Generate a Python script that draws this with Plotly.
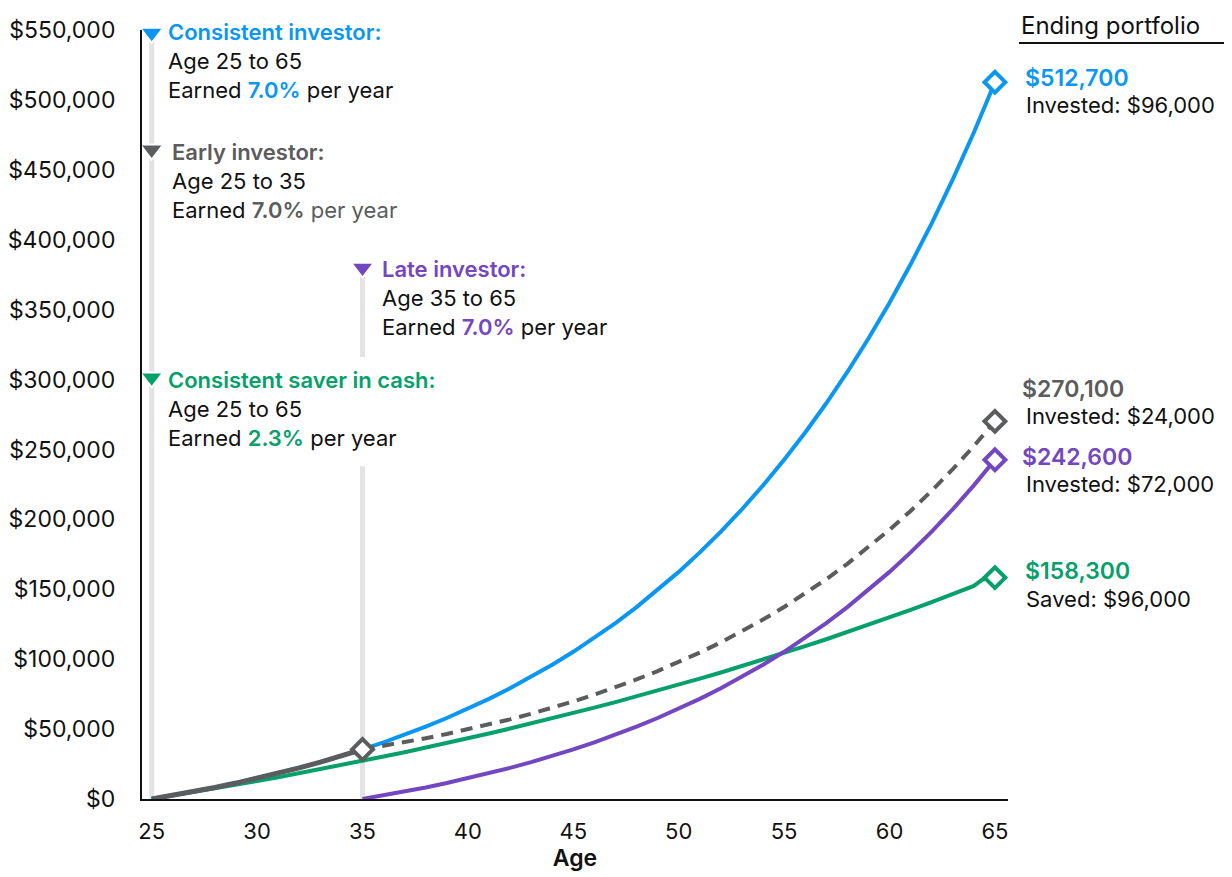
import plotly.graph_objects as go

# ---------------- data ----------------
ages = list(range(25, 66))

consistent_investor = [0, 2568, 5316, 8256, 11402, 14768, 18370, 22223, 26347, 30759,
                       35481, 40532, 45938, 51721, 57910, 64531, 71617, 79198, 87310, 95989,
                       105276, 115214, 125847, 137224, 149398, 162424, 176361, 191274, 207232, 224306,
                       242575, 262124, 283040, 305421, 329368, 354992, 382410, 411746, 443137, 476724,
                       512663]

early_ages = list(range(25, 36))
early_investor_saving = [0, 2568, 5316, 8256, 11402, 14768, 18370, 22223, 26347, 30759, 35481]
early_growth_ages = list(range(35, 66))
early_investor_growth = [35481, 37964, 40622, 43465, 46508, 49763, 53247, 56974, 60962, 65230,
                         69796, 74681, 79909, 85503, 91488, 97892, 104744, 112076, 119922, 128316,
                         137298, 146909, 157193, 168196, 179970, 192568, 206048, 220471, 235904, 252417,
                         270087]

late_ages = list(range(35, 66))
late_investor = [0, 2568, 5316, 8256, 11402, 14768, 18370, 22223, 26347, 30759,
                 35481, 40532, 45938, 51721, 57910, 64531, 71617, 79198, 87310, 95989,
                 105276, 115214, 125847, 137224, 149398, 162424, 176361, 191274, 207232, 224306,
                 242575]

cash_ages = ages[:-1] + [64.4, 65]
cash_saver = [0, 2455, 4967, 7536, 10165, 12854, 15605, 18419, 21298, 24243,
              27255, 30337, 33490, 36716, 40016, 43391, 46844, 50377, 53991, 57688,
              61470, 65339, 69297, 73346, 77488, 81726, 86060, 90495, 95032, 99673,
              104420, 109277, 114246, 119329, 124528, 129848, 135289, 140856, 146551, 152377,
              156900, 158337]

end_labels = ["$512,700", "$270,100", "$242,600", "$158,300"]
end_notes = ["Invested: $96,000", "Invested: $24,000", "Invested: $72,000", "Saved: $96,000"]

y_ticks = list(range(0, 550001, 50000))
y_tick_text = ["$0"] + [f"${v:,}" for v in y_ticks[1:]]
x_ticks = [25, 30, 35, 40, 45, 50, 55, 60, 65]

# marker heights of the label triangles
tri_blue, tri_gray, tri_purple, tri_green = 548000, 464500, 380000, 301500

# ---------------- style ----------------
BLUE = "#0a97f4"
GRAY = "#5b5c5e"
PURPLE = "#7346c2"
GREEN = "#06a06b"
LIGHT = "#e3e3e5"
INK = "#111111"
FONT = "Inter"

OFF = 8  # page body margin
W, H = 1224, 869
L, R, T, B = 134, 224, 22, 78
PW, PH = W - L - R, H - T - B


def px(x):
    return (x - OFF - L) / PW


def py(y):
    return (H - B - (y - OFF)) / PH


fig = go.Figure()

# light vertical guide lines
guides = [(25, tri_blue, 0), (35, tri_purple, 316000), (35, 238000, 0)]
for gx, y1, y2 in guides:
    fig.add_shape(type="line", x0=gx, x1=gx, y0=y1, y1=y2, xref="x", yref="y",
                  line=dict(color=LIGHT, width=5), layer="below")

# lines
fig.add_trace(go.Scatter(x=cash_ages, y=cash_saver, mode="lines",
                         line=dict(color=GREEN, width=4), hoverinfo="skip"))
fig.add_trace(go.Scatter(x=ages, y=consistent_investor, mode="lines",
                         line=dict(color=BLUE, width=4), hoverinfo="skip"))
fig.add_trace(go.Scatter(x=late_ages, y=late_investor, mode="lines",
                         line=dict(color=PURPLE, width=4), hoverinfo="skip"))
fig.add_trace(go.Scatter(x=early_growth_ages, y=early_investor_growth, mode="lines",
                         line=dict(color=GRAY, width=4, dash="12px,8px"), hoverinfo="skip"))
fig.add_trace(go.Scatter(x=early_ages, y=early_investor_saving, mode="lines",
                         line=dict(color=GRAY, width=5), hoverinfo="skip"))

# end diamonds
ends = [(65, consistent_investor[-1], BLUE), (65, early_investor_growth[-1], GRAY),
        (65, late_investor[-1], PURPLE), (65, cash_saver[-1], GREEN),
        (35, early_investor_saving[-1], GRAY)]
for ex, ey, c in ends:
    fig.add_trace(go.Scatter(x=[ex], y=[ey], mode="markers",
                             marker=dict(symbol="diamond", size=16, color="white",
                                         line=dict(color=c, width=4)),
                             hoverinfo="skip", cliponaxis=False))

# triangles
for tx, ty, c in [(25, tri_blue, BLUE), (25, tri_gray, GRAY), (35, tri_purple, PURPLE), (25, tri_green, GREEN)]:
    fig.add_trace(go.Scatter(x=[tx], y=[ty], mode="markers",
                             marker=dict(symbol="triangle-down", size=20, color=c,
                                         line=dict(color="white", width=2)),
                             hoverinfo="skip", cliponaxis=False))

FS = 22
ann = []


def text(xp, yp, t, color=INK, size=FS, weight=400, yanchor="middle"):
    ann.append(dict(x=px(xp), y=py(yp), xref="paper", yref="paper", text=t,
                    showarrow=False, xanchor="left", yanchor=yanchor,
                    font=dict(family=FONT, size=size, color=color, weight=weight)))


def strong(t, color):
    return f"<span style='font-weight:600;color:{color}'>{t}</span>"


# left-side annotations
text(166, 32, "Consistent investor:", BLUE, weight=600)
text(166, 61, "Age 25 to 65")
text(166, 90, f"Earned {strong('7.0%', BLUE)} per year")

text(170, 152, "Early investor:", GRAY, weight=600)
text(170, 181, "Age 25 to 35")
text(170, 210, f"Earned {strong('7.0%', GRAY)}<span style='color:{GRAY}'> per year</span>")

text(380, 269, "Late investor:", PURPLE, weight=600)
text(380, 298, "Age 35 to 65")
text(380, 327, f"Earned {strong('7.0%', PURPLE)} per year")

text(166, 380, "Consistent saver in cash:", GREEN, weight=600)
text(166, 409, "Age 25 to 65")
text(166, 438, f"Earned {strong('2.3%', GREEN)} per year")

# right-side labels
text(1019, 8.5, "Ending portfolio", INK, 24, yanchor="top")
text(1023, 78, end_labels[0], BLUE, 23, 600)
text(1024, 105, end_notes[0], INK, 22)
text(1020, 389, end_labels[1], GRAY, 23, 600)
text(1024, 416, end_notes[1], INK, 22)
text(1020, 457, end_labels[2], PURPLE, 23, 600)
text(1024, 484, end_notes[2], INK, 22)
text(1023, 571, end_labels[3], GREEN, 23, 600)
text(1024, 599, end_notes[3], INK, 22)

fig.add_shape(type="line", xref="paper", yref="paper", x0=px(1019), x1=px(1229),
              y0=py(43), y1=py(43), line=dict(color=INK, width=2))

fig.update_layout(
    width=W, height=H, margin=dict(l=L, r=R, t=T, b=B, autoexpand=False),
    paper_bgcolor="white", plot_bgcolor="white", showlegend=False,
    font=dict(family=FONT, size=FS, color=INK),
    annotations=ann,
)
fig.update_xaxes(range=[24.54, 65.62], tickvals=x_ticks, showgrid=False, zeroline=False,
                 showline=True, linecolor=INK, linewidth=2, ticks="", automargin=False,
                 ticklabelstandoff=12, tickfont=dict(size=FS, family=FONT, color=INK),
                 title=dict(text="Age", font=dict(size=23, family=FONT, color=INK, weight=600),
                            standoff=6))
fig.update_yaxes(range=[0, 550000], tickvals=y_ticks, ticktext=y_tick_text, showgrid=False,
                 zeroline=False, showline=True, linecolor=INK, linewidth=2, ticks="",
                 automargin=False,
                 ticklabelstandoff=20, tickfont=dict(size=23, family=FONT, color=INK))

fig.write_html("out.html")
